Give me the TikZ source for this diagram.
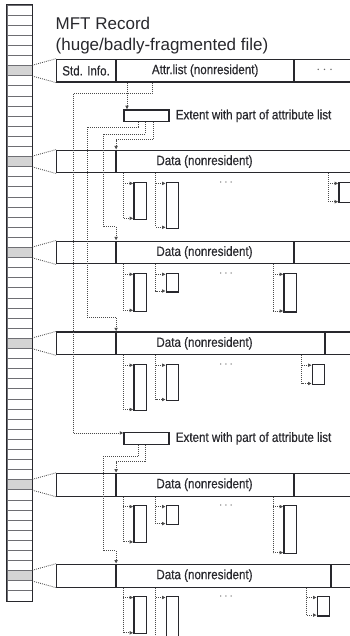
\documentclass[tikz,border=0pt]{standalone}
\usepackage{fontspec}
\setmainfont{Liberation Sans}
\newfontfamily\condfont[FakeStretch=0.86, FakeBold=0.4]{Liberation Sans}
\usepackage{tikz}
\usetikzlibrary{arrows.meta, positioning, calc}
\definecolor{lineDark}{RGB}{40,40,45}
\definecolor{dotGrey}{RGB}{75,75,75}
\definecolor{rowGrey}{RGB}{212,212,212}
\definecolor{rowLine}{RGB}{110,110,115}
\tikzset{
    mftrow/.style={rectangle, draw=rowLine, fill=#1, line width=0.7pt, inner sep=0pt,
                   minimum width=25pt, minimum height=10.1pt},
    mftrow/.default=white,
    cell/.style={rectangle, draw=lineDark, line width=1.1pt, inner sep=0pt, anchor=west,
                 minimum height=22.8pt, font=\condfont\fontsize{13.5}{15}\selectfont, text=lineDark},
    runbox/.style={rectangle, draw=lineDark, line width=1.3pt, inner sep=0pt, anchor=north west,
                   minimum width=12.4pt},
    extbox/.style={rectangle, draw=lineDark, line width=1.2pt, inner sep=0pt,
                   minimum width=45pt, minimum height=11.7pt},
    ptr/.style={draw=dotGrey, line width=0.85pt, dash pattern=on 0.85pt off 1.15pt,
                -{Latex[length=3.6pt, width=3.8pt]}},
    fan/.style={draw=dotGrey, line width=0.85pt, dash pattern=on 0.85pt off 1.15pt},
    lbl/.style={font=\condfont\fontsize{13.5}{15}\selectfont, text=lineDark, inner sep=0pt},
    ttl/.style={font=\fontsize{17}{20}\selectfont, text=lineDark, inner sep=0pt, anchor=base west},
    dotsty/.style={font=\fontsize{13}{13}\selectfont, text=black!65, inner sep=0pt}
}

\begin{document}
\begin{tikzpicture}[x=1pt, y=-1pt]
    \useasboundingbox (0,0) rectangle (350,636);
    \clip (0,0) rectangle (350,636);
    % MFT column
    \foreach \i in {0,...,58} {
        \pgfmathtruncatemacro{\hit}{(\i==6)||(\i==15)||(\i==24)||(\i==33)||(\i==47)||(\i==56)}
        \ifnum\hit=1 \def\fc{rowGrey}\else\def\fc{white}\fi
        \node[mftrow=\fc] (m\i) at (19.5,{10.05+10.1*\i}) {};
    }
    \draw[lineDark, line width=1.2pt] (m0.north west) rectangle (m58.south east);

    \node[ttl] (ttl1) at (55.5,29.5) {MFT Record};
    \node[ttl] (ttl2) at (55.5,50.5) {(huge/badly-fragmented file)};

    % MFT record
    \node[cell, minimum width=59pt] (std) at (m6.center -| 56,0) {Std. Info.};
    \node[cell, minimum width=177pt, right=0pt of std] (alist) {Attr.list (nonresident)};
    \node[cell, minimum width=60pt, right=0pt of alist, font=\fontsize{14}{14}\selectfont, text=black!60] (more1) {$\cdots$};
    \draw[fan] (m6.north east) -- (std.north west);
    \draw[fan] (m6.south east) -- (std.south west);

    % records holding the data
    \foreach \n/\r/\dw in {2/15/237, 3/24/177, 4/33/208, 5/47/177, 6/56/214} {
        \node[cell, minimum width=59pt] (e\n) at (m\r.center -| 56,0) {};
        \node[cell, minimum width=\dw pt, right=0pt of e\n] (d\n) {};
        \node[cell, minimum width={(247-\dw)*1pt}, right=0pt of d\n] (x\n) {};
        \node[lbl] (l\n) at (d\n.center -| 204.5,0) {Data (nonresident)};
        \draw[fan] (m\r.north east) -- (e\n.north west);
        \draw[fan] (m\r.south east) -- (e\n.south west);
        \node[dotsty] (dots\n) at ($(d\n.south -| 226,0)+(0,9.5)$) {$\cdots$};
    }

    \node[extbox] (ext1) at (146.5,115.8) {};
    \node[lbl, right=6pt of ext1] (ext1t) {Extent with part of attribute list};
    \node[extbox] (ext2) at (146.5,438.4) {};
    \node[lbl, right=6pt of ext2] (ext2t) {Extent with part of attribute list};

    \draw[ptr] (alist.south -| 127,0) -- (ext1.north -| 127,0);
    \draw[ptr] (alist.south -| 152,0) |- (73,93) |- ($(ext2.north west)+(0,1)$);
    \draw[ptr] (ext1.south -| 153,0) |- ($(d2.north west)+(0,-10)$) -- (d2.north west);
    \draw[ptr] (ext1.south -| 145.5,0) |- (103,134) |- ($(d3.north west)+(0,-14)$) -- (d3.north west);
    \draw[ptr] (ext1.south -| 138,0) |- (87,127) |- ($(d4.north west)+(0,-14)$) -- (d4.north west);
    \draw[ptr] (ext2.south -| 145.5,0) |- ($(d5.north west)+(0,-11)$) -- (d5.north west);
    \draw[ptr] (ext2.south -| 138,0) |- (103,456.7) |- ($(d6.north west)+(0,-13)$) -- (d6.north west);

    % runs of each data attribute
    \foreach \n/\runs in {2/{123.3/36.6, 155.7/45.6, 328.3/20},
                          3/{123.3/37.7, 155.7/18.4, 273.3/38.4},
                          4/{123.3/46, 155.7/36, 301.7/20},
                          5/{123.3/37, 155.7/18.7, 273.3/47.7},
                          6/{123.3/37, 155.7/46, 306.7/19.3}} {
        \foreach \bx/\h [count=\k] in \runs {
            \node[runbox, minimum height=\h pt] (b\n\k) at ($(d\n.south -| \bx,0)+(10,8.4)$) {};
            \draw[ptr] (d\n.south -| \bx,0) |- ($(b\n\k.north west)+(0,1.5)$);
            \draw[ptr] ($(b\n\k.north west)+(-10,1.5)$) |- ($(b\n\k.south west)+(0,-1.5)$);
        }
    }
\end{tikzpicture}
\end{document}
